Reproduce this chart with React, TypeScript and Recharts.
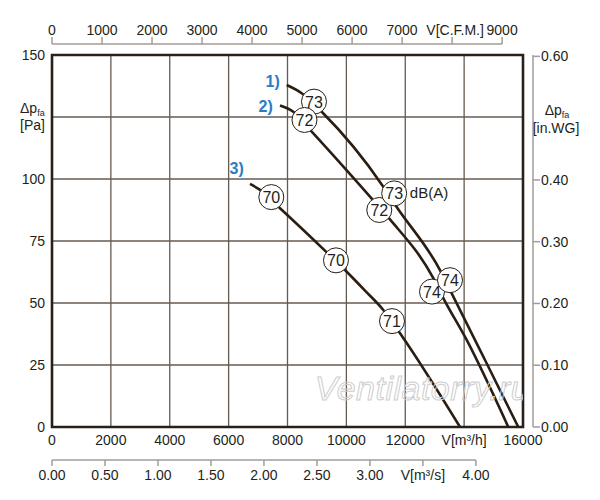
import React from 'react';
import {
  ComposedChart,
  Line,
  Scatter,
  XAxis,
  YAxis,
  CartesianGrid,
  ReferenceArea,
  ReferenceLine,
} from 'recharts';

// ---------- data ----------
// Curve 1) flow [m3/h] vs static pressure [Pa]
const curve1 = [
  { q: 7973, p: 137.9 },
  { q: 8482, p: 134.6 },
  { q: 9162, p: 127.1 },
  { q: 11254, p: 96.9 },
  { q: 11686, p: 89.1 },
  { q: 13180, p: 63.3 },
  { q: 13578, p: 53.9 },
  { q: 14709, p: 27.0 },
  { q: 15840, p: 0 },
];
const curve2 = [
  { q: 7745, p: 129.6 },
  { q: 8197, p: 127.1 },
  { q: 8822, p: 119.1 },
  { q: 10802, p: 92.9 },
  { q: 11482, p: 83.7 },
  { q: 12953, p: 60.0 },
  { q: 13292, p: 52.0 },
  { q: 14087, p: 35.1 },
  { q: 15500, p: 0 },
];
const curve3 = [
  { q: 6726, p: 98.0 },
  { q: 7042, p: 95.8 },
  { q: 7745, p: 88.2 },
  { q: 9308, p: 70.7 },
  { q: 10011, p: 62.6 },
  { q: 10633, p: 55.0 },
  { q: 11254, p: 47.2 },
  { q: 11822, p: 37.8 },
  { q: 13860, p: 0 },
];

// sound level markers dB(A), in painting order
const dbMarkers = [
  { q: 8900, p: 131.2, db: 73 },
  { q: 8577, p: 123.8, db: 72 },
  { q: 11118, p: 87.5, db: 72 },
  { q: 11624, p: 94.2, db: 73 },
  { q: 12909, p: 54.6, db: 74 },
  { q: 13520, p: 59.2, db: 74 },
  { q: 7450, p: 92.7, db: 70 },
  { q: 9647, p: 67.2, db: 70 },
  { q: 11550, p: 42.7, db: 71 },
];

// text annotations
const curveLabels = [
  { q: 7498, p: 137.1, text: '1)' },
  { q: 7260, p: 127.0, text: '2)' },
  { q: 6274, p: 102.0, text: '3)' },
];
const unitNotes = [{ q: 12157, p: 92.3, text: 'dB(A)' }];
const watermark = [{ q: 8925, p: 10.9, text: 'Ventilatorry.ru' }];

// axes
const flowTicks = [0, 2000, 4000, 6000, 8000, 10000, 12000, 14000, 16000];
const paTicks = [0, 25, 50, 75, 100, 125, 150];
const cfmTicks = [0, 1000, 2000, 3000, 4000, 5000, 6000, 7000, 8000, 9000];
const m3sTicks = [0, 0.5, 1, 1.5, 2, 2.5, 3, 3.5, 4];
const inwgTicks = [0, 0.1, 0.2, 0.3, 0.4, 0.5, 0.6];

const M3H_PER_CFM = 1.699011;
const PA_PER_INWG = 249.089;
const FLOW_MAX = 16000;
const PA_MAX = 150;

// anchors so the secondary x axes own some data
const cfmAnchors = cfmTicks.map((c) => ({ c, p: 0 }));
const m3sAnchors = m3sTicks.map((s) => ({ s, p: 0 }));

// ---------- styles ----------
const INK = '#231f20';
const CURVE = '#2a1d12';
const FRAME = '#2a2018';
const GRID = '#645a50';
const AXIS_GREY = '#a39d96';
const BLUE = '#2a7cc3';
const FONT = '"Liberation Sans", Arial, Helvetica, sans-serif';
const FS = 14;

const txt = { fontFamily: FONT, fontSize: FS, fill: INK } as const;

// ---------- custom ticks ----------
const LeftTick = (props: any) => {
  const { x, y, payload } = props;
  const v = payload.value;
  if (v === 125) {
    return (
      <g>
        <text x={x - 32} y={y - 4} {...txt}>
          Δp<tspan fontSize={9} dy={3}>fa</tspan>
        </text>
        <text x={x - 32} y={y + 13} {...txt}>
          [Pa]
        </text>
      </g>
    );
  }
  return (
    <text x={x - 7} y={y + 5} textAnchor="end" {...txt}>
      {v}
    </text>
  );
};

const RightTick = (props: any) => {
  const { x, y, payload } = props;
  const v = payload.value;
  if (v === 0.5) {
    return (
      <g>
        <text x={x + 24} y={y - 3} textAnchor="middle" {...txt}>
          Δp<tspan fontSize={9} dy={3}>fa</tspan>
        </text>
        <text x={x + 23} y={y + 15} textAnchor="middle" {...txt}>
          [in.WG]
        </text>
      </g>
    );
  }
  return (
    <g>
      <line x1={x} x2={x + 7} y1={y} y2={y} stroke={AXIS_GREY} strokeWidth={1.5} />
      <text x={x + 8} y={y + 5} {...txt}>
        {v.toFixed(2)}
      </text>
    </g>
  );
};

// the CFM axis band ends at the plot top; its line sits 11px above it
const TopTick = (props: any) => {
  const { x, y, payload } = props;
  const v = payload.value;
  return (
    <g>
      <line x1={x} x2={x} y1={y - 11} y2={y - 18} stroke={AXIS_GREY} strokeWidth={1.5} />
      {v === 8000 ? (
        <text x={x + 3} y={y - 20} textAnchor="middle" {...txt}>
          V[C.F.M.]
        </text>
      ) : (
        <text x={x} y={y - 20} textAnchor="middle" {...txt}>
          {v}
        </text>
      )}
    </g>
  );
};

const FlowTick = (props: any) => {
  const { x, y, payload } = props;
  const v = payload.value;
  return (
    <text x={x} y={y + 18} textAnchor="middle" {...txt}>
      {v === 14000 ? 'V[m³/h]' : v}
    </text>
  );
};

const M3sTick = (props: any) => {
  const { x, y, payload } = props;
  const v = payload.value;
  return (
    <g>
      <line x1={x} x2={x} y1={y} y2={y + 6} stroke={AXIS_GREY} strokeWidth={1.5} />
      <text x={x} y={y + 20} textAnchor="middle" {...txt}>
        {v === 3.5 ? 'V[m³/s]' : v.toFixed(2)}
      </text>
    </g>
  );
};

// ---------- shapes ----------
const Nothing = () => <g />;

const DbMarker = (props: any) => {
  const { cx, cy, payload } = props;
  return (
    <g>
      <circle cx={cx} cy={cy} r={12.5} fill="#ffffff" stroke={CURVE} strokeWidth={1} />
      <text x={cx} y={cy + 6} textAnchor="middle" fontFamily={FONT} fontSize={16} fill={INK}>
        {payload.db}
      </text>
    </g>
  );
};

const CurveLabel = (props: any) => {
  const { cx, cy, payload } = props;
  return (
    <text x={cx} y={cy} textAnchor="middle" fontFamily={FONT} fontSize={16} fontWeight="bold" fill={BLUE}>
      {payload.text}
    </text>
  );
};

const UnitNote = (props: any) => {
  const { cx, cy, payload } = props;
  return (
    <text x={cx} y={cy} fontFamily={FONT} fontSize={15} fill={INK}>
      {payload.text}
    </text>
  );
};

const Watermark = (props: any) => {
  const { cx, cy, payload } = props;
  return (
    <text
      x={cx}
      y={cy}
      fontFamily={FONT}
      fontSize={34}
      fontStyle="italic"
      fill="none"
      stroke="#cdcdcd"
      strokeWidth={1}
      letterSpacing={0.5}
    >
      {payload.text}
    </text>
  );
};

// ---------- chart ----------
export default function App() {
  const common = { xAxisId: 'm3h', yAxisId: 'pa' } as const;
  return (
    <div style={{ position: 'absolute', left: 0, top: 0, width: 600, height: 500, background: '#ffffff' }}>
      <ComposedChart width={600} height={500} margin={{ top: 0, right: 0, bottom: 0, left: 0 }}>
        <XAxis
          xAxisId="m3h"
          type="number"
          dataKey="q"
          domain={[0, FLOW_MAX]}
          ticks={flowTicks}
          interval={0}
          orientation="bottom"
          height={33}
          axisLine={false}
          tickLine={false}
          tickSize={0}
          tickMargin={0}
          tick={<FlowTick />}
          allowDataOverflow
        />
        <XAxis
          xAxisId="m3s"
          type="number"
          dataKey="s"
          domain={[0, FLOW_MAX / 3600]}
          ticks={m3sTicks}
          interval={0}
          orientation="bottom"
          height={40}
          axisLine={false}
          tickLine={false}
          tickSize={0}
          tickMargin={0}
          tick={<M3sTick />}
          allowDataOverflow
        />
        <XAxis
          xAxisId="cfm"
          type="number"
          dataKey="c"
          domain={[0, FLOW_MAX / M3H_PER_CFM]}
          ticks={cfmTicks}
          interval={0}
          orientation="top"
          height={55}
          axisLine={false}
          tickLine={false}
          tickSize={0}
          tickMargin={0}
          tick={<TopTick />}
          allowDataOverflow
        />
        <YAxis
          yAxisId="pa"
          type="number"
          dataKey="p"
          domain={[0, PA_MAX]}
          ticks={paTicks}
          interval={0}
          width={52}
          axisLine={false}
          tickLine={false}
          tickSize={0}
          tickMargin={0}
          tick={<LeftTick />}
          allowDataOverflow
        />
        <YAxis
          yAxisId="gapRight"
          type="number"
          domain={[0, 1]}
          orientation="right"
          width={10}
          tick={false}
          axisLine={false}
          tickLine={false}
          allowDataOverflow
        />
        <YAxis
          yAxisId="inwg"
          type="number"
          domain={[0, PA_MAX / PA_PER_INWG]}
          ticks={inwgTicks}
          interval={0}
          orientation="right"
          width={67}
          axisLine={{ stroke: AXIS_GREY, strokeWidth: 1.5 }}
          tickLine={false}
          tickSize={0}
          tickMargin={0}
          tick={<RightTick />}
          allowDataOverflow
        />

        <CartesianGrid xAxisId="m3h" yAxisId="pa" stroke={GRID} strokeWidth={1.3} />

        {/* invisible anchors for the secondary flow axes */}
        <Scatter xAxisId="cfm" yAxisId="pa" data={cfmAnchors} dataKey="p" shape={<Nothing />} isAnimationActive={false} />
        <Scatter xAxisId="m3s" yAxisId="pa" data={m3sAnchors} dataKey="p" shape={<Nothing />} isAnimationActive={false} />

        {/* secondary axis lines, ending at their last tick */}
        <ReferenceLine
          xAxisId="cfm"
          yAxisId="pa"
          segment={[
            { x: 0, y: PA_MAX + (11 * PA_MAX) / 372 },
            { x: 9000, y: PA_MAX + (11 * PA_MAX) / 372 },
          ]}
          stroke={AXIS_GREY}
          strokeWidth={1.5}
          ifOverflow="visible"
        />
        <ReferenceLine
          xAxisId="m3s"
          yAxisId="pa"
          segment={[
            { x: 0, y: -(33 * PA_MAX) / 372 },
            { x: 4, y: -(33 * PA_MAX) / 372 },
          ]}
          stroke={AXIS_GREY}
          strokeWidth={1.5}
          ifOverflow="visible"
        />

        <Scatter {...common} data={watermark} dataKey="p" shape={<Watermark />} isAnimationActive={false} />

        <Line {...common} data={curve1} dataKey="p" type="monotone" stroke={CURVE} strokeWidth={2.6} dot={false} activeDot={false} isAnimationActive={false} />
        <Line {...common} data={curve2} dataKey="p" type="monotone" stroke={CURVE} strokeWidth={2.6} dot={false} activeDot={false} isAnimationActive={false} />
        <Line {...common} data={curve3} dataKey="p" type="monotone" stroke={CURVE} strokeWidth={2.6} dot={false} activeDot={false} isAnimationActive={false} />

        <ReferenceArea
          {...common}
          x1={0}
          x2={FLOW_MAX}
          y1={0}
          y2={PA_MAX}
          fill="none"
          stroke={FRAME}
          strokeWidth={2.6}
        />

        <Scatter {...common} data={dbMarkers} dataKey="p" shape={<DbMarker />} isAnimationActive={false} />
        <Scatter {...common} data={curveLabels} dataKey="p" shape={<CurveLabel />} isAnimationActive={false} />
        <Scatter {...common} data={unitNotes} dataKey="p" shape={<UnitNote />} isAnimationActive={false} />
      </ComposedChart>
    </div>
  );
}
